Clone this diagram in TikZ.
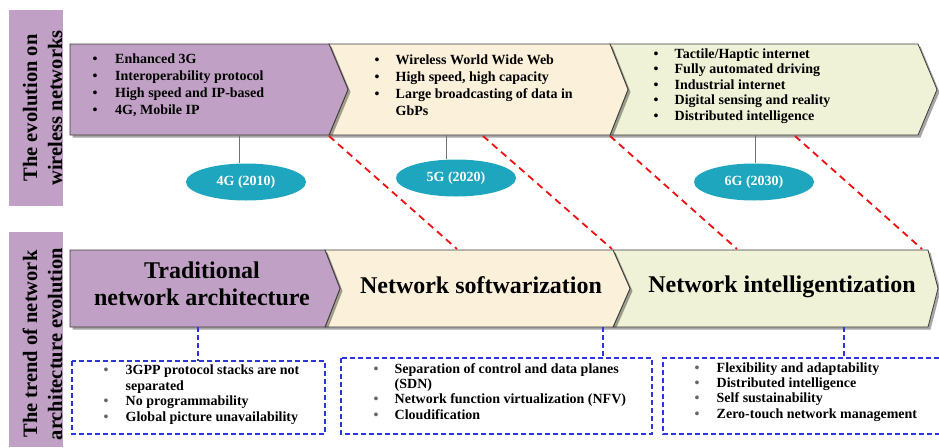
\documentclass[tikz,border=0pt]{standalone}
\usepackage{fontspec}
\setmainfont{Liberation Serif}
\usetikzlibrary{shadows,shapes.geometric}
\definecolor{mauve}{HTML}{C0A0C4}
\definecolor{creamA}{HTML}{FBF0DA}
\definecolor{paleG}{HTML}{EFF2D6}
\definecolor{tealE}{HTML}{1FA6BF}
\definecolor{edgeC}{HTML}{3C3C3C}
\definecolor{blueD}{HTML}{2B35E0}
\definecolor{redD}{HTML}{F01010}
\newcommand{\fsz}[2]{\fontsize{#1}{#2}\selectfont\bfseries}
\newcommand{\gb}{\textcolor{black!60}{\textbullet}}
\begin{document}
\begin{tikzpicture}[x=1pt,y=-1pt,
  chev/.style={draw=edgeC, line width=0.8pt, line join=miter,
    drop shadow={shadow xshift=2.5pt, shadow yshift=-2.5pt, opacity=0.35, fill=black}},
  labelbar/.style={fill=mauve, draw=none},
  sidelabel/.style={rotate=90, align=center, inner sep=0pt, font=\fsz{20.5}{25}},
  genellipse/.style={ellipse, fill=tealE, draw=none, minimum width=120pt, minimum height=37pt,
    inner sep=0pt, text=white, font=\fsz{14}{16}},
  grayline/.style={draw=black!55, line width=0.8pt},
  reddash/.style={draw=redD, line width=1.8pt, dash pattern=on 7pt off 5pt},
  bluedash/.style={draw=blueD, line width=1.2pt, dash pattern=on 5pt off 3pt},
  listtext/.style={anchor=west, inner sep=0pt, align=left},
  titletext/.style={inner sep=0pt, align=center, font=\fsz{24}{27}}
]
\useasboundingbox (0,0) rectangle (939,447);

% side label bars
\path[labelbar] (9,10) rectangle (63,206);
\path[labelbar] (9,232) rectangle (63,447);
\node[sidelabel] (L1) at (42.5,108) {The evolution on\\wireless networks};
\node[sidelabel] (L2) at (42.5,344) {The trend of network\\architecture evolution};

% top row chevrons (right to left so shadows fall on neighbours)
\filldraw[chev, fill=paleG] (610,44) -- (918,44) -- (937,89.5) -- (918,135) -- (610,135) -- (628,89.5) -- cycle;
\filldraw[chev, fill=creamA] (329,44) -- (610,44) -- (628,89.5) -- (610,135) -- (329,135) -- (348,89.5) -- cycle;
\filldraw[chev, fill=mauve] (70,44) -- (329,44) -- (348,89.5) -- (329,135) -- (70,135) -- cycle;

% bottom row chevrons
\filldraw[chev, fill=paleG] (613,250) -- (928,250) -- (938,288.5) -- (928,327) -- (613,327) -- (630,288.5) -- cycle;
\filldraw[chev, fill=creamA] (325,250) -- (613,250) -- (630,288.5) -- (613,327) -- (325,327) -- (340,288.5) -- cycle;
\filldraw[chev, fill=mauve] (70,250) -- (325,250) -- (340,288.5) -- (325,327) -- (70,327) -- cycle;

% top row lists
\node[listtext, font=\fsz{14}{17}] (tA) at (92.5,86) {\begin{tabular}{@{}p{22.5pt}@{}l@{}}
\textbullet & Enhanced 3G\\
\textbullet & Interoperability protocol\\
\textbullet & High speed and IP-based\\
\textbullet & 4G, Mobile IP
\end{tabular}};
\node[listtext, font=\fsz{14}{17}] (tB) at (374.5,86.5) {\begin{tabular}{@{}p{21pt}@{}l@{}}
\textbullet & Wireless World Wide Web\\
\textbullet & High speed, high capacity\\
\textbullet & Large broadcasting of data in\\
 & GbPs
\end{tabular}};
\node[listtext, font=\fsz{14}{15.5}] (tC) at (653.5,86) {\begin{tabular}{@{}p{21pt}@{}l@{}}
\textbullet & Tactile/Haptic internet\\
\textbullet & Fully automated driving\\
\textbullet & Industrial internet\\
\textbullet & Digital sensing and reality\\
\textbullet & Distributed intelligence
\end{tabular}};

% generation ellipses
\node[genellipse] (e4) at (246,182) {4G (2010)};
\node[genellipse] (e5) at (456,178) {5G (2020)};
\node[genellipse] (e6) at (754,182) {6G (2030)};
\coordinate (c4) at (239,135);
\coordinate (c5) at (446,135);
\coordinate (c6) at (755,135);
\draw[grayline] (c4) -- (c4 |- e4.north);
\draw[grayline] (c5) -- (c5 |- e5.north);
\draw[grayline] (c6) -- (c6 |- e6.north);

% red dashed links
\coordinate (r1s) at (329,136); \coordinate (r1e) at (457,249);
\coordinate (r2s) at (483,136); \coordinate (r2e) at (612,249);
\coordinate (r3s) at (610,136); \coordinate (r3e) at (737,249);
\coordinate (r4s) at (795,136); \coordinate (r4e) at (922,249);
\draw[reddash] (r1s) -- (r1e);
\draw[reddash] (r2s) -- (r2e);
\draw[reddash] (r3s) -- (r3e);
\draw[reddash] (r4s) -- (r4e);

% bottom row titles
\node[titletext] (T1) at (202,283.4) {Traditional\\network architecture};
\node[titletext, anchor=base] (T2) at (481,293) {Network softwarization};
\node[titletext, anchor=base] (T3) at (782,292) {Network intelligentization};

% blue dashed boxes
\draw[bluedash] (72,361) rectangle (325,434);
\draw[bluedash] (341,358) rectangle (652,434);
\draw[bluedash] (939,358) -- (663,358) -- (663,434) -- (939,434);
\coordinate (k1) at (198,327); \coordinate (k1e) at (198,361);
\coordinate (k2) at (603,327); \coordinate (k2e) at (603,358);
\coordinate (k3) at (844,327); \coordinate (k3e) at (844,358);
\draw[bluedash] (k1) -- (k1e);
\draw[bluedash] (k2) -- (k2e);
\draw[bluedash] (k3) -- (k3e);

\node[listtext, font=\fsz{14}{15.5}] (bA) at (103.5,395) {\begin{tabular}{@{}p{22pt}@{}l@{}}
\gb & 3GPP protocol stacks are not\\
 & separated\\
\gb & No programmability\\
\gb & Global picture unavailability
\end{tabular}};
\node[listtext, font=\fsz{14}{15.3}] (bB) at (373.5,393) {\begin{tabular}{@{}p{21pt}@{}l@{}}
\gb & Separation of control and data planes\\
 & (SDN)\\
\gb & Network function virtualization (NFV)\\
\gb & Cloudification
\end{tabular}};
\node[listtext, font=\fsz{14}{15.3}] (bC) at (694.5,392) {\begin{tabular}{@{}p{22pt}@{}l@{}}
\gb & Flexibility and adaptability\\
\gb & Distributed intelligence\\
\gb & Self sustainability\\
\gb & Zero-touch network management
\end{tabular}};
\end{tikzpicture}
\end{document}
